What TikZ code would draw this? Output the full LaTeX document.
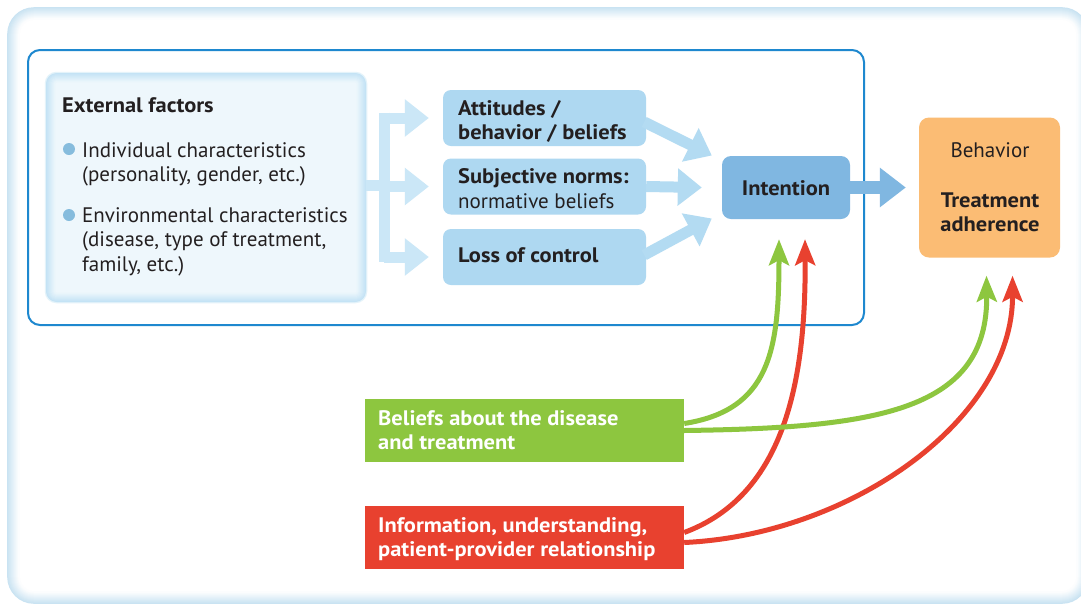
\documentclass[tikz,border=0pt]{standalone}
\usepackage{fontspec}
\setmainfont{PT Sans}[BoldFeatures={FakeStretch=1.07}]
\usetikzlibrary{arrows.meta,calc}
\definecolor{frameblue}{HTML}{1E88CF}
\definecolor{paleblue}{HTML}{CBE7F7}
\definecolor{boxblue}{HTML}{AED8F1}
\definecolor{arrblue}{HTML}{B3DBF2}
\definecolor{intblue}{HTML}{80B7E1}
\definecolor{orangebox}{HTML}{FBBC74}
\definecolor{greenbox}{HTML}{8DC63F}
\definecolor{redbox}{HTML}{E8412F}
\definecolor{textdark}{HTML}{231F20}
\definecolor{bulletblue}{HTML}{86BCDD}
\definecolor{glowA}{HTML}{C9E3F2}
\definecolor{extfill}{HTML}{EEF7FC}
\definecolor{extedge}{HTML}{C4E3F5}
\begin{document}
\begin{tikzpicture}[x=1pt,y=-1pt,
  txt/.style={anchor=base west, text=textdark, font=\fontsize{21}{25}\selectfont, inner sep=0pt},
  bld/.style={txt, font=\fontsize{21}{25}\selectfont\bfseries},
  ctr/.style={anchor=base, text=textdark, font=\fontsize{21}{25}\selectfont\bfseries, inner sep=0pt},
  ctrreg/.style={anchor=base, text=textdark, font=\fontsize{21}{25}\selectfont, inner sep=0pt},
  wht/.style={txt, text=white, font=\fontsize{21}{25}\selectfont\bfseries},
  bluebox/.style={rounded corners=8pt, fill=boxblue, inner sep=0pt, minimum width=203pt, minimum height=56pt},
  fat/.style={line width=11pt, -{Triangle[length=24pt,width=36pt]}},
  curvearrow/.style={line width=5pt, -{Stealth[length=26pt,width=20pt,inset=5pt]}},
]
\useasboundingbox (0,0) rectangle (1081,606);
\fill[white] (0,0) rectangle (1081,606);
% outer panel with soft glow
\foreach \i in {0,...,11} {
  \pgfmathsetmacro\pc{100-\i*8.6}
  \pgfmathsetmacro\rc{26-\i}
  \draw[glowA!\pc!white, line width=1.6pt, rounded corners=\rc pt] (8+\i,8+\i) rectangle (1088-\i,603-\i);
}
% inner frame
\draw[frameblue, line width=2pt, rounded corners=12pt] (28,50) rectangle (864,325);
% external factors box with soft edge
\node[fill=extfill, rounded corners=10pt, minimum width=320pt, minimum height=229pt, inner sep=0pt] (extf) at (206,187.5) {};
\draw[extedge!45!white, line width=1.5pt, rounded corners=11pt] (45.5,72.5) rectangle (366.5,302.5);
\foreach \i in {0,...,8} {
  \pgfmathsetmacro\pc{100-\i*11}
  \pgfmathsetmacro\rc{10-\i}
  \draw[extedge!\pc!extfill, line width=1.4pt, rounded corners=\rc pt] (46.7+\i,73.7+\i) rectangle (365.3-\i,301.3-\i);
}
\node[bld] (exth) at (62,112) {External factors};
\fill[bulletblue] (69,149) circle (6pt);
\fill[bulletblue] (69,215) circle (6pt);
\node[txt] (ic1) at (82,157) {Individual characteristics};
\node[txt] (ic2) at (82,181.5) {(personality, gender, etc.)};
\node[txt] (ec1) at (82,222) {Environmental characteristics};
\node[txt] (ec2) at (82,246.5) {(disease, type of treatment,};
\node[txt] (ec3) at (82,271) {family, etc.)};
% three determinant boxes
\node[bluebox] (att) at (544.5,118) {};
\node[bld] (att1) at (458,115) {Attitudes /};
\node[bld] (att2) at (458,139.5) {behavior / beliefs};
\node[bluebox] (sub) at (544.5,186.5) {};
\node[bld] (sub1) at (458,183.5) {Subjective norms:};
\node[txt] (sub2) at (458,208) {normative beliefs};
\node[bluebox] (loss) at (544.5,257) {};
\node[bld] (loss1) at (458,262) {Loss of control};
% intention and behavior
\node[rounded corners=9pt, fill=intblue, minimum width=128pt, minimum height=63pt, inner sep=0pt] (int) at (786,187.5) {};
\node[ctr] (intt) at (786,195) {Intention};
\node[rounded corners=10pt, fill=orangebox, minimum width=141pt, minimum height=140pt, inner sep=0pt] (beh) at (989.5,187.5) {};
\node[ctrreg] (beh1) at (990,157) {Behavior};
\node[ctr] (beh2) at (990,207) {Treatment};
\node[ctr] (beh3) at (990,231) {adherence};
% green and red boxes
\node[fill=greenbox, minimum width=319pt, minimum height=63pt, inner sep=0pt] (green) at (524.5,430.5) {};
\node[wht] (g1) at (378,425) {Beliefs about the disease};
\node[wht] (g2) at (378,449) {and treatment};
\node[fill=redbox, minimum width=319pt, minimum height=63pt, inner sep=0pt] (red) at (524.5,537.5) {};
\node[wht] (r1) at (378,532) {Information, understanding,};
\node[wht] (r2) at (378,556) {patient-provider relationship};
% branching arrows from external factors
\coordinate (bj) at (384,185);
\coordinate (btop) at (384,112.5);
\coordinate (bbot) at (384,261.5);
\draw[paleblue, line width=11pt] (extf.east |- bj) -- (bj);
\draw[paleblue, line width=11pt] (btop) -- (bbot);
\draw[paleblue, fat, shorten >=14pt] (bj |- att.west) -- (att.west);
\draw[paleblue, fat, shorten >=14pt] (bj |- sub.west) -- (sub.west);
\draw[paleblue, fat, shorten >=14pt] (bj |- loss.west) -- (loss.west);
% determinants to intention
\draw[arrblue, fat] ($(att.east)+(-2,4)$) -- ($(int.west)+(-10,-32)$);
\draw[arrblue, fat] (sub.east) -- ($(int.west)+(-20,0)$);
\draw[arrblue, fat] ($(loss.east)+(-2,-2)$) -- ($(int.west)+(-10,31)$);
% intention to behavior
\draw[intblue, line width=13pt, -{Triangle[length=26pt,width=38pt]}, shorten >=13pt] (int.east) -- (beh.west);
% curved influences
\draw[greenbox, curvearrow] ($(green.east)+(0,-7)$) .. controls (770,410) and (779,350) .. ($(int.south)+(-7,20)$);
\draw[redbox, curvearrow] ($(red.east)+(0,-5)$) .. controls (785,495) and (806,380) .. ($(int.south)+(19,20)$);
\draw[greenbox, curvearrow] ($(green.east)+(0,0)$) .. controls (880,428) and (988,410) .. ($(beh.south)+(-3,18)$);
\draw[redbox, curvearrow] ($(red.east)+(0,5)$) .. controls (850,535) and (1013,420) .. ($(beh.south)+(23,18)$);
\end{tikzpicture}
\end{document}
